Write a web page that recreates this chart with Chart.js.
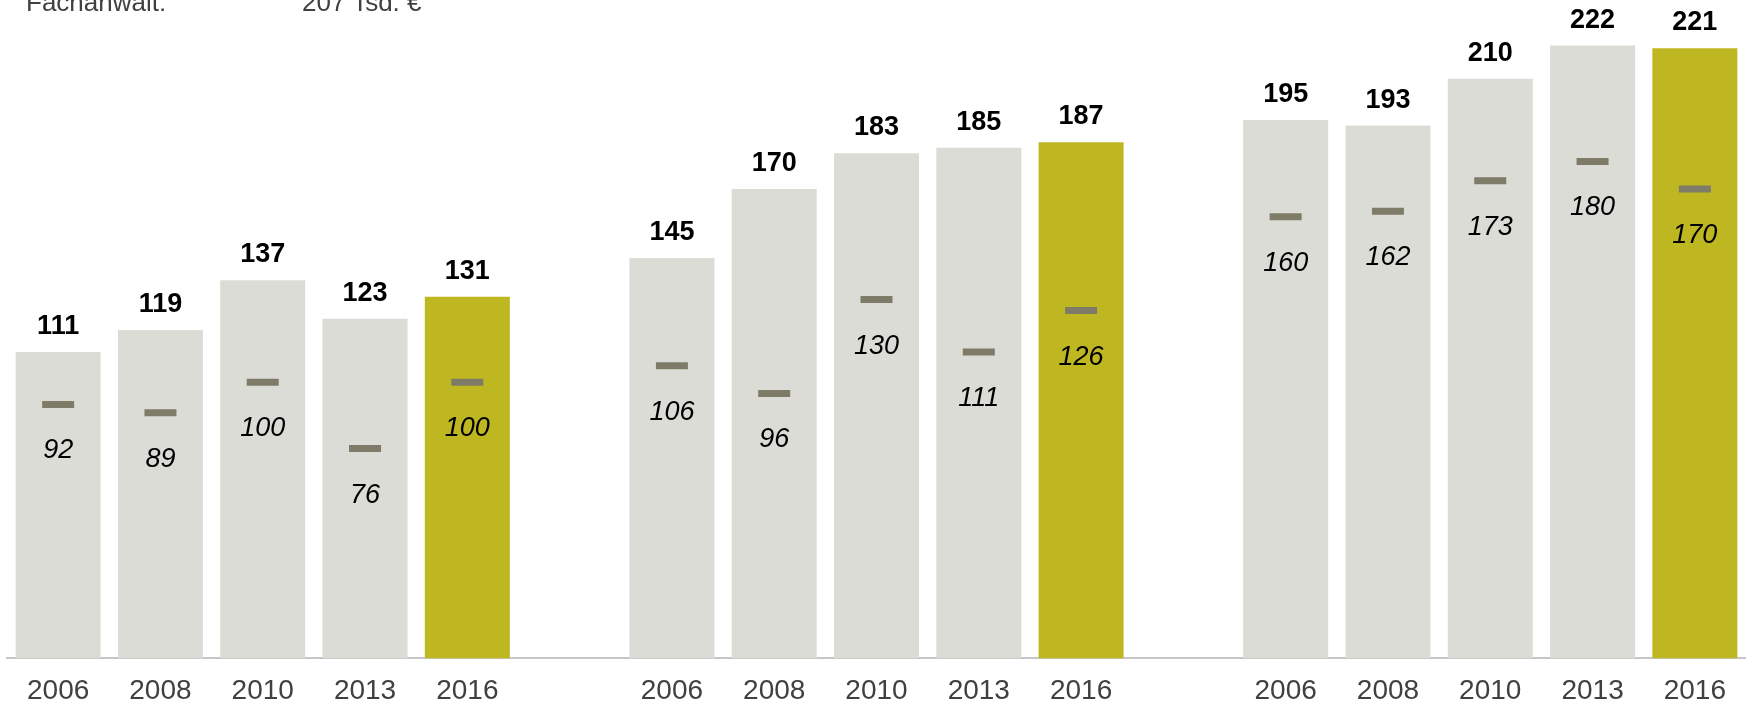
<!DOCTYPE html>
<html lang="de">
<head>
  <meta charset="UTF-8">
  <title>Umsatz je Berufsträger</title>
  <script src="https://cdn.jsdelivr.net/npm/chart.js"></script>
  <style>
    body {
      margin: 0;
      padding: 0;
      background: #fff;
      font-family: "Liberation Sans", Arial, sans-serif;
    }
    .wrap {
      position: relative;
      width: 1746px;
      height: 704px;
      overflow: hidden;
    }
    /* Kopfzeile, oben angeschnitten */
    .note {
      position: absolute;
      top: -11px;
      font-size: 26px;
      line-height: 26px;
      color: #404040;
      white-space: nowrap;
    }
    #noteLabel { left: 26px; }
    #noteValue { left: 302px; }
  </style>
</head>
<body>
  <div class="wrap">
    <canvas id="chart"></canvas>
    <div class="note" id="noteLabel">Fachanwalt:</div>
    <div class="note" id="noteValue">207 Tsd. €</div>
  </div>

  <script>
    // Jahre je Gruppe
    const years = ['2006', '2008', '2010', '2013', '2016'];

    // Gruppe 1
    const valuesA = [111, 119, 137, 123, 131];
    const medianA = [92, 89, 100, 76, 100];
    // Gruppe 2
    const valuesB = [145, 170, 183, 185, 187];
    const medianB = [106, 96, 130, 111, 126];
    // Gruppe 3
    const valuesC = [195, 193, 210, 222, 221];
    const medianC = [160, 162, 173, 180, 170];

    const grey  = '#dcdcd6';
    const olive = '#bfb722';
    const mark  = '#7e7c68';

    // Gruppen mit je einer Leerspalte dazwischen
    const labels  = [...years, '', ...years, '', ...years];
    const totals  = [...valuesA, null, ...valuesB, null, ...valuesC];
    const medians = [...medianA, null, ...medianB, null, ...medianC];
    const barColors = labels.map(l => l === '2016' ? olive : grey);

    const fontFamily = '"Liberation Sans", Arial, sans-serif';

    // Werte über den Balken (fett) und unter den Markern (kursiv)
    const valueLabels = {
      id: 'valueLabels',
      afterDatasetsDraw(chart) {
        const ctx = chart.ctx;
        ctx.save();
        ctx.fillStyle = '#000';
        ctx.textAlign = 'center';
        ctx.textBaseline = 'alphabetic';

        const bars = chart.getDatasetMeta(0);
        ctx.font = 'bold 27px ' + fontFamily;
        bars.data.forEach((el, i) => {
          const v = totals[i];
          if (v == null) return;
          ctx.fillText(String(v), el.x, el.y - 18);
        });

        const pts = chart.getDatasetMeta(1);
        ctx.font = 'italic 27px ' + fontFamily;
        pts.data.forEach((el, i) => {
          const v = medians[i];
          if (v == null) return;
          ctx.fillText(String(v), el.x, el.y + 54);
        });
        ctx.restore();
      }
    };

    const ctx = document.getElementById('chart').getContext('2d');
    const chart = new Chart(ctx, {
      type: 'bar',
      data: {
        labels: labels,
        datasets: [
          {
            label: 'Durchschnitt',
            data: totals,
            backgroundColor: barColors,
            borderWidth: 0,
            barPercentage: 0.831,
            categoryPercentage: 1.0,
            order: 1
          },
          {
            type: 'line',
            label: 'Median',
            data: medians,
            showLine: false,
            pointStyle: 'line',
            pointRadius: 16,
            pointHoverRadius: 16,
            pointBorderWidth: 7,
            borderColor: mark,
            backgroundColor: mark,
            clip: false,
            order: 0
          }
        ]
      },
      options: {
        responsive: true,
        maintainAspectRatio: false,
        animation: false,
        layout: {
          autoPadding: false,
          padding: { left: 7, right: 0, top: 0, bottom: -20 }
        },
        scales: {
          x: {
            grid: { display: false, drawTicks: false },
            border: { display: true, color: '#c6c6c6', width: 2 },
            ticks: {
              color: '#404040',
              padding: 16,
              autoSkip: false,
              maxRotation: 0,
              font: { family: fontFamily, size: 28 }
            }
          },
          y: {
            display: false,
            min: 0,
            max: 238.5
          }
        },
        plugins: {
          legend: { display: false },
          tooltip: { enabled: false }
        }
      },
      plugins: [valueLabels]
    });
  </script>
</body>
</html>
